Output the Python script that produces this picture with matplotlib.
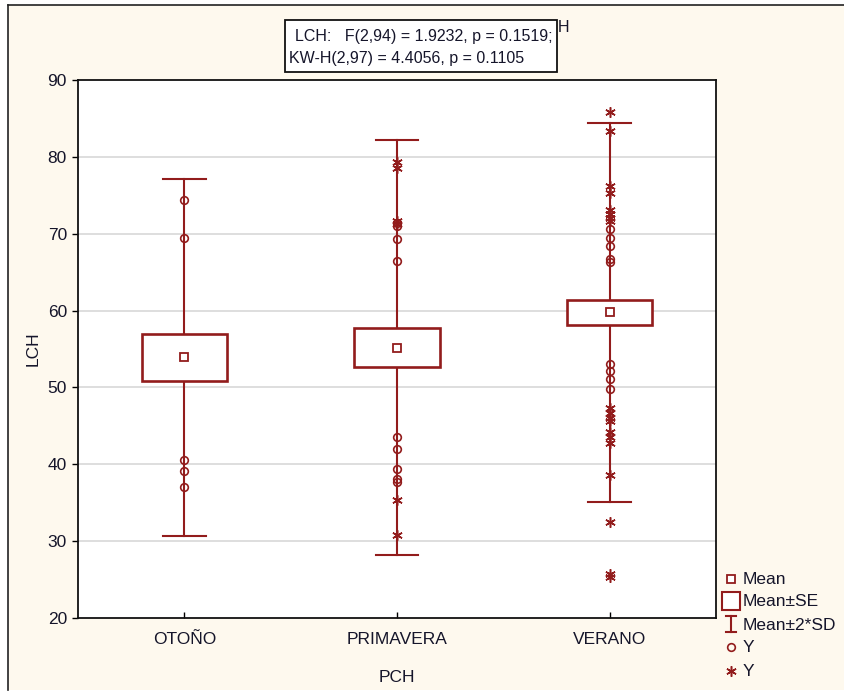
import matplotlib
matplotlib.use("Agg")
import matplotlib.pyplot as plt
import numpy as np
from matplotlib.lines import Line2D
from matplotlib.patches import Rectangle

plt.rcParams["font.family"] = ["Liberation Sans", "DejaVu Sans"]

# Groups and summary statistics
groups = ["OTOÑO", "PRIMAVERA", "VERANO"]
means = [53.9, 55.15, 59.75]
se = [3.1, 2.55, 1.6]
sd = [11.6, 13.5, 12.3]

# Individual observations drawn as open circles
circ_otono = [74.4, 69.4, 40.6, 39.1, 37.0]
circ_primavera = [71.4, 71.0, 69.3, 66.5, 43.6, 42.0, 39.4, 38.1, 37.7]
circ_verano = [70.6, 69.5, 68.4, 66.7, 66.3, 53.0, 52.2, 51.1, 49.8]
# ... and as asterisks
ast_otono = []
ast_primavera = [79.3, 78.6, 71.6, 71.2, 35.3, 30.8]
ast_verano = [85.9, 83.3, 76.2, 75.3, 73.1, 72.6, 72.1, 71.6,
              47.3, 46.7, 46.0, 45.6, 44.2, 43.5, 42.8, 38.6, 32.5, 25.7, 25.3]

y_ticks = [20, 30, 40, 50, 60, 70, 80, 90]

RED = "#921C1C"
CREAM = "#FEF9EE"
TXT = "#15152A"

W, H = 845, 694
fig = plt.figure(figsize=(W / 100, H / 100), dpi=100, facecolor="white")


def px(x, y):
    """pixel position (from top-left) -> figure fraction"""
    return x / W, 1 - y / H


# cream panel with a thin frame on the left and top
fig.patches.append(Rectangle(px(8, 690), 1, (690 - 5) / H,
                             transform=fig.transFigure, fc=CREAM, ec="none", zorder=-5))
fig.lines.append(Line2D([8 / W, 8 / W], [1 - 690 / H, 1 - 5 / H],
                        transform=fig.transFigure, color="#222222", lw=1.2, zorder=-4))
fig.lines.append(Line2D([8 / W, 1], [1 - 5 / H, 1 - 5 / H],
                        transform=fig.transFigure, color="#222222", lw=1.2, zorder=-4))

ax = fig.add_axes([78 / W, 1 - 618 / H, (716 - 78) / W, (618 - 80) / H])
ax.set_zorder(1)
ax.set_facecolor("white")
ax.set_xlim(-0.5, 2.5)
ax.set_ylim(20, 90)

for y in y_ticks[1:-1]:
    ax.axhline(y, color="#D8D8D8", lw=1.2, zorder=1)

box_hw = 0.2
cap_hw = 0.1
circles = [circ_otono, circ_primavera, circ_verano]
asters = [ast_otono, ast_primavera, ast_verano]
for i, (m, s, d) in enumerate(zip(means, se, sd)):
    lo, hi = m - 2 * d, m + 2 * d
    # whisker (mean ± 2*SD)
    ax.plot([i, i], [lo, m - s], color=RED, lw=1.5, zorder=2)
    ax.plot([i, i], [m + s, hi], color=RED, lw=1.5, zorder=2)
    ax.plot([i - cap_hw, i + cap_hw], [lo, lo], color=RED, lw=1.5, zorder=2)
    ax.plot([i - cap_hw, i + cap_hw], [hi, hi], color=RED, lw=1.5, zorder=2)
    # box (mean ± SE)
    ax.add_patch(Rectangle((i - box_hw, m - s), 2 * box_hw, 2 * s,
                           fc="white", ec=RED, lw=1.9, zorder=3))
    ax.plot([i], [m], marker="s", ms=6, mfc="white", mec=RED, mew=1.3, zorder=4)
    # observations
    if circles[i]:
        ax.plot(np.full(len(circles[i]), i), circles[i], ls="none", marker="o",
                ms=5.5, mfc="none", mec=RED, mew=1.2, zorder=5)
    if asters[i]:
        ax.plot(np.full(len(asters[i]), i), asters[i], ls="none", marker=(6, 2, 0),
                ms=7.5, mec=RED, mew=1.1, zorder=5)

ax.set_xticks(range(len(groups)))
ax.set_xticklabels(groups, fontsize=12.5, color=TXT)
ax.set_yticks(y_ticks)
ax.set_yticklabels([str(v) for v in y_ticks], fontsize=12.5, color=TXT)
ax.tick_params(axis="y", direction="out", length=4, width=1, pad=4)
ax.tick_params(axis="x", direction="in", length=4, width=1, pad=10)
for sp in ax.spines.values():
    sp.set_color("#111111")
    sp.set_linewidth(1.3)

ax.set_xlabel("PCH", fontsize=12.5, color=TXT, labelpad=17)
ax.set_ylabel("LCH", fontsize=12.5, color=TXT, labelpad=5)

# statistics box above the plot
fig.patches.append(Rectangle(px(285, 72), (557 - 285) / W, (72 - 20) / H,
                             transform=fig.transFigure, fc="white", ec="#111111",
                             lw=1.3, zorder=2))
fig.text(*px(295, 36), "LCH:   F(2,94) = 1.9232, p = 0.1519;",
         fontsize=11.5, color=TXT, va="center", ha="left", zorder=3)
fig.text(*px(289, 58), "KW-H(2,97) = 4.4056, p = 0.1105",
         fontsize=11.5, color=TXT, va="center", ha="left", zorder=3)
fig.text(*px(558, 28), "H", fontsize=11.5, color=TXT, va="center", ha="left")

# legend, drawn by hand in pixel coordinates
lg = fig.add_axes([0, 0, 1, 1], zorder=2)
lg.set_xlim(0, W)
lg.set_ylim(H, 0)
lg.axis("off")
lx, tx = 731, 743
rows = [579, 601, 624, 647, 671]
lg.plot([lx], [rows[0]], marker="s", ms=6, mfc="white", mec=RED, mew=1.3)
lg.plot([lx], [rows[1]], marker="s", ms=13, mfc="white", mec=RED, mew=1.5)
lg.plot([lx, lx], [rows[2] - 8, rows[2] + 8], color=RED, lw=1.5)
lg.plot([lx - 5, lx + 5], [rows[2] - 8, rows[2] - 8], color=RED, lw=1.5)
lg.plot([lx - 5, lx + 5], [rows[2] + 8, rows[2] + 8], color=RED, lw=1.5)
lg.plot([lx], [rows[3]], marker="o", ms=5.5, mfc="none", mec=RED, mew=1.2)
lg.plot([lx], [rows[4]], marker=(6, 2, 0), ms=7.5, mec=RED, mew=1.1)
for y, lab in zip(rows, ["Mean", "Mean±SE", "Mean±2*SD", "Y", "Y"]):
    lg.text(tx, y + 1, lab, fontsize=12.5, color=TXT, va="center", ha="left")

fig.savefig("out.png", dpi=100, facecolor=fig.get_facecolor())
